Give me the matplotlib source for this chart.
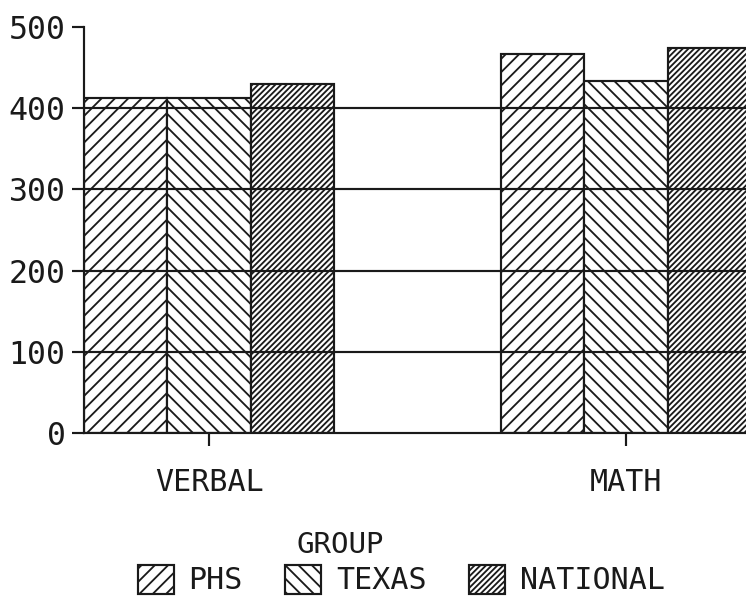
import numpy as np
import matplotlib
matplotlib.use("Agg")
import matplotlib.pyplot as plt

# Data
categories = ["VERBAL", "MATH"]
groups = ["PHS", "TEXAS", "NATIONAL"]
phs = [413, 467]
texas = [413, 433]
national = [430, 474]
hatches = ["///", "\\\\\\", "///////"]
yticks = [0, 100, 200, 300, 400, 500]

ink = "#1a1a1a"
plt.rcParams["font.family"] = "DejaVu Sans Mono"
plt.rcParams["hatch.linewidth"] = 1.1
plt.rcParams["hatch.color"] = ink

dpi = 120
fig = plt.figure(figsize=(746 / dpi, 602 / dpi), dpi=dpi)
ax = fig.add_axes([84 / 746, 169 / 602, 662 / 746, 406 / 602])

x = np.arange(len(categories))
width = 0.2
series = [phs, texas, national]
for i, (vals, h, name) in enumerate(zip(series, hatches, groups)):
    ax.bar(x + (i - 1) * width, vals, width, facecolor="white", edgecolor=ink,
           linewidth=1.3, hatch=h, label=name, zorder=2)

ax.set_xlim(-0.3, 1.288)
ax.set_ylim(0, 500)
ax.set_yticks(yticks)
ax.set_xticks(x)
ax.set_xticklabels(categories)

ax.yaxis.grid(True, color=ink, linewidth=1.3)
ax.set_axisbelow(False)
gl = ax.yaxis.get_gridlines()
gl[0].set_visible(False)
gl[-1].set_visible(False)

for s in ["top", "right"]:
    ax.spines[s].set_visible(False)
for s in ["left", "bottom"]:
    ax.spines[s].set_linewidth(1.3)
    ax.spines[s].set_color(ink)
    ax.spines[s].set_zorder(3)

ax.tick_params(axis="y", direction="out", length=7, width=1.3, colors=ink,
               labelsize=19, pad=4)
ax.tick_params(axis="x", direction="out", length=8, width=1.3, colors=ink,
               labelsize=18, pad=13)

fig.text(340 / 746, 57 / 602, "GROUP", ha="center", va="center",
         fontsize=17.5, color=ink)
leg = fig.legend(loc="center", bbox_to_anchor=(401 / 746, 22 / 602), ncol=3,
                 frameon=False, fontsize=18, handlelength=1.2, handleheight=1.1,
                 handletextpad=0.5, columnspacing=1.4)
for t in leg.get_texts():
    t.set_color(ink)

fig.savefig("out.png", dpi=dpi, facecolor="white")
